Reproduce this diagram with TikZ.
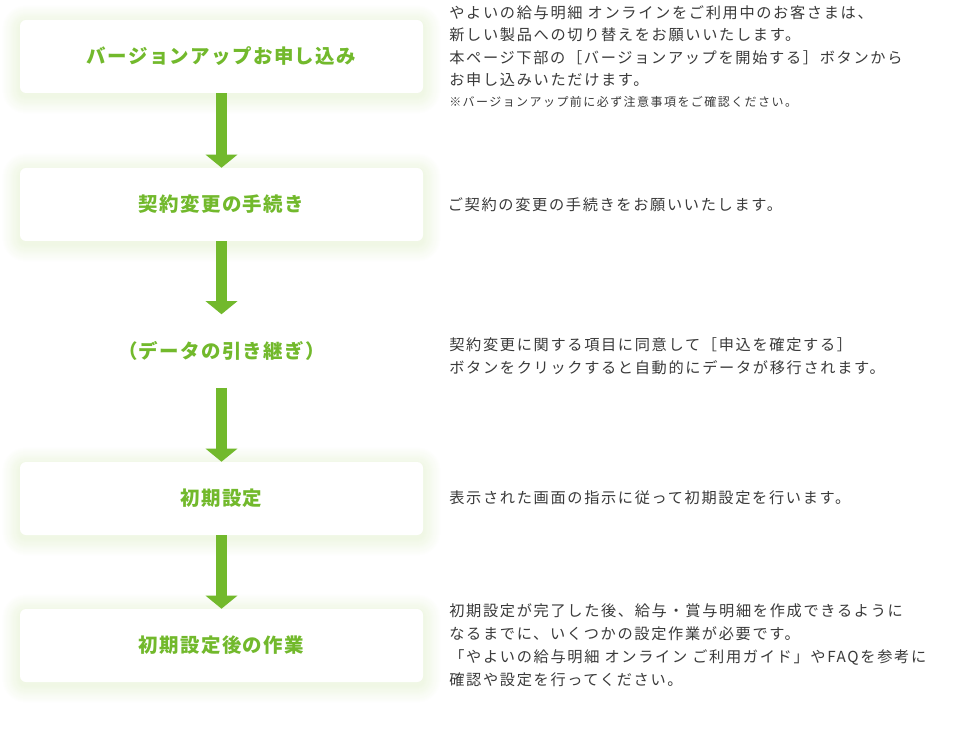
\documentclass[tikz,border=0pt]{standalone}
\usepackage{fontspec}
\usetikzlibrary{arrows.meta,backgrounds,calc}
\newfontfamily\jp[LetterSpace=11]{Noto Sans CJK JP}
\newfontfamily\jphead[LetterSpace=7]{Noto Sans CJK JP}
\newfontfamily\jpnote[LetterSpace=12]{Noto Sans CJK JP}
\definecolor{fgreen}{HTML}{72B92C}
\definecolor{ftext}{HTML}{3A3A3A}
\definecolor{glowc}{HTML}{9ACB50}
\begin{document}
\begin{tikzpicture}[x=0.75pt,y=-0.75pt,
  stepbox/.style={rounded corners=4.5pt, fill=white, minimum width=302.25pt,
    minimum height=54.75pt, inner sep=0pt, text=fgreen,
    font=\jphead\bfseries\fontsize{14.6pt}{17pt}\selectfont},
  plainstep/.style={stepbox, fill=none},
  flow/.style={draw=fgreen, line width=8.25pt,
    -{Triangle[width=23.25pt,length=9.75pt]}},
  txt/.style={anchor=base west, inner sep=0pt, text=ftext,
    font=\jp\fontsize{11.4pt}{14pt}\selectfont},
  notetxt/.style={txt, font=\jpnote\fontsize{9pt}{11pt}\selectfont}]
\useasboundingbox (0,0) rectangle (980,730);

\node[stepbox]   (b1) at (221.5,56.5)  {バージョンアップお申し込み};
\node[stepbox]   (b2) at (221.5,204.5) {契約変更の手続き};
\node[plainstep] (b3) at (221.5,351)   {（データの引き継ぎ）};
\node[stepbox]   (b4) at (221.5,498.5) {初期設定};
\node[stepbox]   (b5) at (221.5,645.5) {初期設定後の作業};

\begin{scope}[on background layer]
  \fill[white] (0,0) rectangle (980,730);
  \foreach \n in {b1,b2,b4,b5}{
    \foreach \i in {18,17,...,1}{
      \pgfmathtruncatemacro{\mix}{(19-\i)*0.85}
      \fill[glowc!\mix!white,rounded corners={(6+\i)*0.75pt}]
        ($(\n.north west)+(-\i,-\i+3)$) rectangle ($(\n.south east)+(\i,\i+3)$);
    }
  }
\end{scope}

\draw[flow] (b1.south) -- (b2.north);
\draw[flow] (b2.south) -- (b3.north);
\draw[flow] (b3.south) -- (b4.north);
\draw[flow] (b4.south) -- (b5.north);

\node[txt] (t1a) at (449,18.2) {やよいの給与明細 オンラインをご利用中のお客さまは、};
\node[txt] (t1b) at (449,40.7) {新しい製品への切り替えをお願いいたします。};
\node[txt] (t1c) at (449,63.2) {本ページ下部の［バージョンアップを開始する］ボタンから};
\node[txt] (t1d) at (449,85.4) {お申し込みいただけます。};
\node[notetxt] (t1e) at (449,107) {※バージョンアップ前に必ず注意事項をご確認ください。};

\node[txt] (t2a) at (447.5,210.7) {ご契約の変更の手続きをお願いいたします。};

\node[txt] (t3a) at (449,350.7) {契約変更に関する項目に同意して［申込を確定する］};
\node[txt] (t3b) at (449,373.7) {ボタンをクリックすると自動的にデータが移行されます。};

\node[txt] (t4a) at (449,503.7) {表示された画面の指示に従って初期設定を行います。};

\node[txt] (t5a) at (449,616.2) {初期設定が完了した後、給与・賞与明細を作成できるように};
\node[txt] (t5b) at (449,639.7) {なるまでに、いくつかの設定作業が必要です。};
\node[txt] (t5c) at (449,662.7) {「やよいの給与明細 オンライン ご利用ガイド」やFAQを参考に};
\node[txt] (t5d) at (449,685.7) {確認や設定を行ってください。};
\end{tikzpicture}
\end{document}
